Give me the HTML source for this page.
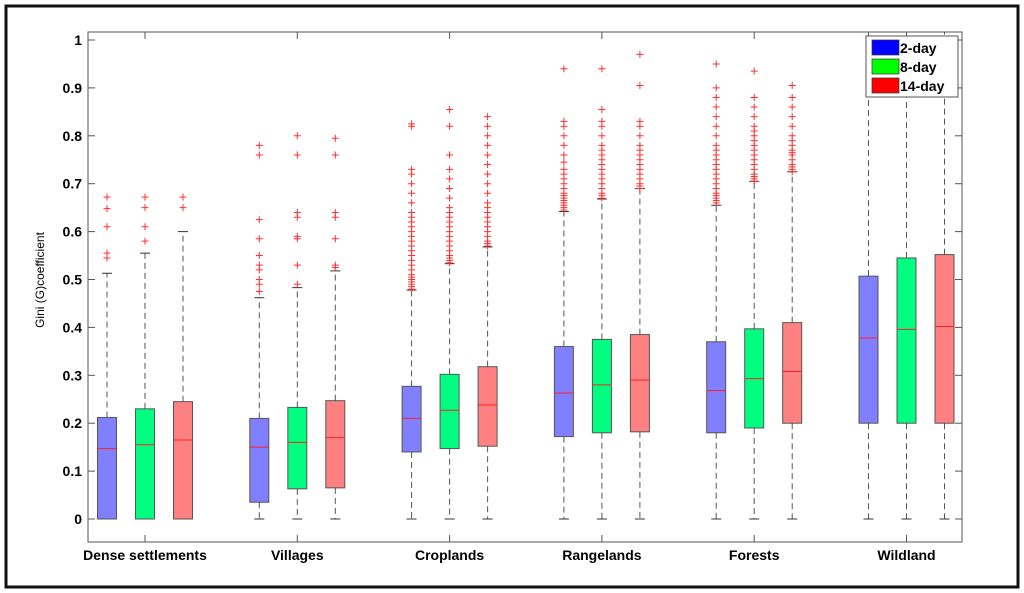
<!DOCTYPE html>
<html><head><meta charset="utf-8"><style>
html,body{margin:0;padding:0;background:#fff;}
svg{display:block;font-family:"Liberation Sans",Arial,sans-serif;}
</style></head><body>
<svg id="chart" width="1024" height="593" viewBox="0 0 1024 593">
<rect x="6" y="6" width="1012" height="581" fill="#fff" stroke="#111" stroke-width="3"/>
<g id="plot"></g>
<text transform="translate(44,280) rotate(-90)" text-anchor="middle" font-size="12">Gini (G)coefficient</text>
<g>
<rect x="866" y="36" width="92" height="61" fill="#fff" stroke="#555" stroke-width="1"/>
<rect x="872" y="40" width="27" height="15" fill="#0000ff" stroke="#333" stroke-width="0.7"/>
<text x="900" y="53" font-size="14" font-weight="bold">2-day</text>
<rect x="872" y="59" width="27" height="15" fill="#00ff00" stroke="#333" stroke-width="0.7"/>
<text x="900" y="72" font-size="14" font-weight="bold">8-day</text>
<rect x="872" y="78" width="27" height="15" fill="#ff0000" stroke="#333" stroke-width="0.7"/>
<text x="900" y="91" font-size="14" font-weight="bold">14-day</text>
</g>
</svg>
<script>
const categories = ["Dense settlements","Villages","Croplands","Rangelands","Forests","Wildland"];
const seriesNames = ["2-day","8-day","14-day"];
const yTicks = [0,0.1,0.2,0.3,0.4,0.5,0.6,0.7,0.8,0.9,1];
const yTickLabels = ["0","0.1","0.2","0.3","0.4","0.5","0.6","0.7","0.8","0.9","1"];
// per category: [2-day, 8-day, 14-day]
const whiskerLow = [[0,0,0],[0,0,0],[0,0,0],[0,0,0],[0,0,0],[0,0,0]];
const q1 = [[0,0,0],[0.035,0.063,0.065],[0.14,0.147,0.152],[0.172,0.18,0.182],[0.18,0.19,0.2],[0.2,0.2,0.2]];
const medians = [[0.147,0.155,0.165],[0.15,0.16,0.17],[0.21,0.227,0.238],[0.263,0.28,0.29],[0.268,0.293,0.308],[0.378,0.396,0.402]];
const q3 = [[0.212,0.23,0.245],[0.21,0.233,0.247],[0.277,0.302,0.318],[0.36,0.375,0.385],[0.37,0.397,0.41],[0.507,0.545,0.552]];
const whiskerHigh = [[0.513,0.555,0.6],[0.462,0.483,0.518],[0.478,0.533,0.568],[0.642,0.668,0.69],[0.655,0.705,0.725],[1.05,1.05,1.05]];
const outliers = [
 [[0.545,0.555,0.61,0.648,0.672],[0.58,0.61,0.65,0.672],[0.65,0.672]],
 [[0.475,0.49,0.5,0.52,0.53,0.55,0.585,0.625,0.76,0.78],[0.49,0.53,0.585,0.59,0.63,0.64,0.76,0.8],[0.525,0.53,0.585,0.63,0.64,0.76,0.795]],
 [[0.48,0.485,0.49,0.495,0.5,0.505,0.51,0.52,0.53,0.54,0.55,0.56,0.57,0.58,0.59,0.6,0.61,0.62,0.63,0.64,0.66,0.68,0.7,0.72,0.73,0.82,0.825],
  [0.535,0.54,0.545,0.55,0.56,0.57,0.58,0.59,0.6,0.61,0.62,0.63,0.64,0.65,0.67,0.69,0.71,0.73,0.76,0.82,0.855],
  [0.57,0.575,0.58,0.59,0.6,0.61,0.62,0.63,0.64,0.65,0.66,0.68,0.7,0.72,0.74,0.76,0.78,0.8,0.82,0.84]],
 [[0.645,0.65,0.655,0.66,0.665,0.67,0.675,0.68,0.69,0.7,0.71,0.72,0.73,0.745,0.76,0.78,0.8,0.82,0.83,0.94],
  [0.67,0.675,0.68,0.69,0.7,0.71,0.72,0.73,0.74,0.75,0.76,0.77,0.78,0.8,0.82,0.83,0.855,0.94],
  [0.69,0.695,0.7,0.71,0.72,0.73,0.74,0.75,0.76,0.77,0.78,0.8,0.82,0.83,0.905,0.97]],
 [[0.66,0.665,0.67,0.675,0.68,0.69,0.7,0.71,0.72,0.73,0.74,0.75,0.76,0.77,0.78,0.8,0.82,0.84,0.86,0.88,0.9,0.95],
  [0.705,0.71,0.715,0.72,0.73,0.74,0.75,0.76,0.77,0.78,0.79,0.8,0.81,0.82,0.84,0.86,0.88,0.935],
  [0.725,0.73,0.735,0.74,0.75,0.76,0.765,0.77,0.78,0.79,0.8,0.82,0.84,0.86,0.88,0.905]],
 [[],[],[]]
];
const fills = ["#8080ff","#00ff80","#ff8080"];

const L=88,R=962,T=32,B=542, Y0=519, PER=479;
const y = v => Y0 - v*PER;
const xCat = i => 145 + i*152.3;
const off = [-38,0,38], HW=9.5;
const NS="http://www.w3.org/2000/svg";
const g=document.getElementById('plot');
function mk(tag,attrs,parent){const e=document.createElementNS(NS,tag);for(const k in attrs)e.setAttribute(k,attrs[k]);(parent||g).appendChild(e);return e;}

const frame=mk('rect',{x:L,y:T,width:R-L,height:B-T,fill:'none',stroke:'#555','stroke-width':1});



yTicks.forEach((t,i)=>{
  const ty=y(t);
  const a=mk('line',{x1:L,x2:L+7,y1:ty,y2:ty,stroke:'#555'});
  
  
  const b=mk('line',{x1:R-7,x2:R,y1:ty,y2:ty,stroke:'#555'});
  
  
  const tx=mk('text',{x:L-6,y:ty+5,'text-anchor':'end','font-size':14,'font-weight':'bold'});
  tx.textContent=yTickLabels[i];
  
  
});

categories.forEach((c,i)=>{
  const cx=xCat(i);
  const t1=mk('line',{x1:cx,x2:cx,y1:B,y2:B-7,stroke:'#555'});
  
  
  const t2=mk('line',{x1:cx,x2:cx,y1:T,y2:T+7,stroke:'#555'});
  
  
  const lab=mk('text',{x:cx,y:560,'text-anchor':'middle','font-size':14,'font-weight':'bold'});
  lab.textContent=c;
  
  
  for(let s=0;s<3;s++){
    const bx=cx+off[s];
    const grp=mk('g',{});
    
    
    const hiY=Math.max(y(whiskerHigh[i][s]),T);
    mk('line',{x1:bx,x2:bx,y1:y(q3[i][s]),y2:hiY,stroke:'#555','stroke-dasharray':'6,4'},grp);
    mk('line',{x1:bx,x2:bx,y1:y(q1[i][s]),y2:y(whiskerLow[i][s]),stroke:'#555','stroke-dasharray':'6,4'},grp);
    if(whiskerHigh[i][s]<=1.03) mk('line',{x1:bx-5,x2:bx+5,y1:hiY,y2:hiY,stroke:'#333'},grp);
    mk('line',{x1:bx-5,x2:bx+5,y1:y(whiskerLow[i][s]),y2:y(whiskerLow[i][s]),stroke:'#333'},grp);
    mk('rect',{x:bx-HW,y:y(q3[i][s]),width:2*HW,height:y(q1[i][s])-y(q3[i][s]),fill:fills[s],stroke:'#555','stroke-width':1},grp);
    mk('line',{x1:bx-HW,x2:bx+HW,y1:y(medians[i][s]),y2:y(medians[i][s]),stroke:'#ff2020','stroke-width':1},grp);
    outliers[i][s].forEach(v=>{
      const oy=y(v);
      mk('path',{d:`M${bx-3.5},${oy}H${bx+3.5}M${bx},${oy-3.5}V${oy+3.5}`,stroke:'#ff3030','stroke-width':1},grp);
    });
  }
});
</script>
</body></html>
